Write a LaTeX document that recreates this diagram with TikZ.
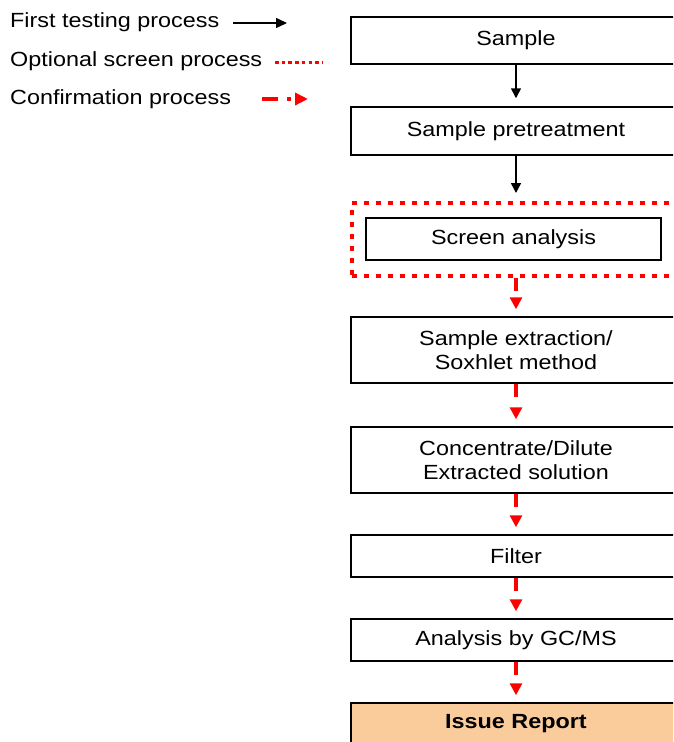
\documentclass[tikz,border=0pt]{standalone}
\usepackage{fontspec}
\setmainfont[FakeStretch=1.14]{Liberation Sans}
\usetikzlibrary{arrows.meta}
\definecolor{peach}{RGB}{250,203,155}
\begin{document}
\begin{tikzpicture}[x=1pt,y=-1pt,
  txt/.style={font=\fontsize{20.5}{24}\selectfont},
  box/.style={txt, draw=black, line width=1.5pt, minimum width=330pt, inner sep=0pt, align=center},
  blackarrow/.style={draw=black, line width=1.5pt, -{Triangle[length=10pt,width=10pt]}, shorten >=8pt},
  redarrow/.style={draw=red, line width=3.5pt, dash pattern=on 13pt off 60pt, -{Triangle[length=12pt,width=12pt]}, shorten >=7pt},
  reddots/.style={draw=red, line width=4pt, dash pattern=on 5pt off 7pt},
]
\useasboundingbox (0,0) rectangle (673,742);
\clip (0,0) rectangle (673,742);

% legend
\node[txt, anchor=base west, inner sep=0pt] (leg1) at (10,27) {First testing process};
\node[txt, anchor=base west, inner sep=0pt] (leg2) at (10,66) {Optional screen process};
\node[txt, anchor=base west, inner sep=0pt] (leg3) at (10,104) {Confirmation process};
\coordinate (l1a) at (233,23); \coordinate (l1b) at (287,23);
\coordinate (l2a) at (275,62); \coordinate (l2b) at (322,62);
\coordinate (l3a) at (262,99); \coordinate (l3b) at (308,99);
\draw[draw=black, line width=1.5pt, -{Triangle[length=11pt,width=10pt]}] (l1a) -- (l1b);
\draw[draw=red, line width=3pt, dash pattern=on 3.5pt off 3.2pt] (l2a) -- (l2b);
\draw[draw=red, line width=3.5pt, dash pattern=on 16pt off 9pt on 4pt off 30pt, -{Triangle[length=13pt,width=12pt]}] (l3a) -- (l3b);

% boxes
\node[box, minimum height=47pt] (sample) at (516,40.5) {Sample};
\node[box, minimum height=48pt] (pre) at (516,131) {Sample pretreatment};
\node[reddots, minimum width=338pt, minimum height=73pt, inner sep=0pt] (frame) at (521,239.5) {};
\node[box, minimum width=295pt, minimum height=42pt] (screen) at (513.5,239) {Screen analysis};
\node[box, minimum height=66pt] (extract) at (516,350) {Sample extraction/\\Soxhlet method};
\node[box, minimum height=66pt] (conc) at (516,460) {Concentrate/Dilute\\Extracted solution};
\node[box, minimum height=42pt] (filter) at (516,556) {Filter};
\node[box, minimum height=42pt] (gcms) at (516,640) {Analysis by GC/MS};
\node[box, minimum height=42pt, fill=peach, font=\fontsize{20.5}{24}\selectfont\bfseries] (report) at (516,724) {Issue Report};

% connectors
\draw[blackarrow] (sample.south) -- (pre.north);
\draw[blackarrow] (pre.south) -- (pre.south |- frame.north);
\draw[redarrow] (frame.south -| extract.north) -- (extract.north);
\draw[redarrow] (extract.south) -- (conc.north);
\draw[redarrow] (conc.south) -- (filter.north);
\draw[redarrow] (filter.south) -- (gcms.north);
\draw[redarrow] (gcms.south) -- (report.north);
\end{tikzpicture}
\end{document}
